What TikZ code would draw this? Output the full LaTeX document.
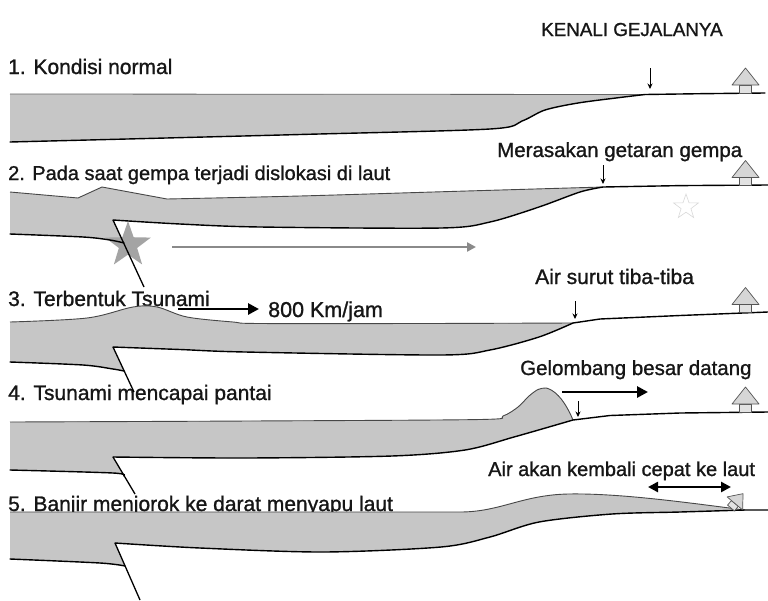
\documentclass[tikz,border=0pt]{standalone}
\usepackage{fontspec}
\setmainfont{Liberation Sans}
\newfontfamily\labelfont{Liberation Sans}[FakeBold=1.1]
\usetikzlibrary{arrows.meta,shapes.geometric}
\definecolor{seagrey}{HTML}{C6C6C6}
\definecolor{ink}{HTML}{161616}
\definecolor{hutline}{HTML}{555555}
\definecolor{hutroof}{HTML}{D6D6D6}
\definecolor{hutbox}{HTML}{E2E2E2}
\definecolor{quakegrey}{HTML}{A4A4A4}
\definecolor{pathgrey}{HTML}{8A8A8A}
\tikzset{
  sea/.style={fill=seagrey},
  bed/.style={draw=black, line width=1.4pt, line join=round, line cap=round},
  surf/.style={draw=black!72, line width=0.9pt, line join=round},
  fault/.style={draw=black, line width=1.3pt},
  tick/.style={draw=black, line width=0.8pt, -{Stealth[length=5.5pt,width=5pt]}},
  bigarrow/.style={draw=black, line width=2.8pt, -{Triangle[length=11pt,width=11pt]}},
  twoway/.style={draw=black, line width=2.8pt, {Triangle[length=10pt,width=10pt]}-{Triangle[length=10pt,width=10pt]}},
  lbl/.style={font=\labelfont\fontsize{21}{25}\selectfont, text=ink, inner sep=0pt, anchor=base west},
  hut/.pic={
    \filldraw[fill=hutbox, draw=hutline, line width=0.7pt] (-6,0) rectangle (6,-8);
    \filldraw[fill=hutroof, draw=hutline, line width=0.7pt, line join=round] (-13.5,-8) -- (13.5,-8) -- (0,-25) -- cycle;
  }
}
\begin{document}
\begin{tikzpicture}[x=1pt,y=-1pt]
\fill[white] (0,0) rectangle (768,600);
\useasboundingbox (0,0) rectangle (768,600);

% ---------- headings and captions ----------
\node[lbl, font=\labelfont\fontsize{18.8}{22}\selectfont] (t-title) at (541,36) {KENALI GEJALANYA};
\node[lbl] (t-p1) at (8,74) {1. Kondisi normal};
\node[lbl, font=\labelfont\fontsize{20.5}{25}\selectfont] (t-feel) at (497,157) {Merasakan getaran gempa};
\node[lbl, font=\labelfont\fontsize{20}{24}\selectfont] (t-p2) at (8,180) {2. Pada saat gempa terjadi dislokasi di laut};
\node[lbl] (t-recede) at (535,284) {Air surut tiba-tiba};
\node[lbl] (t-p3) at (8,306) {3. Terbentuk Tsunami};
\node[lbl, font=\labelfont\fontsize{21.5}{25}\selectfont] (t-speed) at (268,317) {800 Km/jam};
\node[lbl, font=\labelfont\fontsize{20.5}{25}\selectfont] (t-wave) at (520,375) {Gelombang besar datang};
\node[lbl] (t-p4) at (8,400) {4. Tsunami mencapai pantai};
\node[lbl, font=\labelfont\fontsize{20}{24}\selectfont] (t-back) at (488,476) {Air akan kembali cepat ke laut};
\node[lbl] (t-p5) at (8,511) {5. Banjir menjorok ke darat menyapu laut};

% ---------- 1: calm sea ----------
\fill[sea] plot[smooth,tension=.5] coordinates {(10,142) (300,134.5) (490,129) (522,121) (545,110) (578,103) (620,97.5) (645,94.5)} -- (10,94) -- cycle;
\draw[draw=black!60, line width=0.8pt] (10,94) -- (645,94.5);
\draw[bed] plot[smooth,tension=.5] coordinates {(10,142) (300,134.5) (490,129) (522,121) (545,110) (578,103) (620,97.5) (645,94.5)} -- (700,93.7) -- (765,93);
\pic at (745.5,93) {hut};
\coordinate (k1a) at (650,68);
\coordinate (k1b) at (650,89);
\draw[tick] (k1a) -- (k1b);

% ---------- 2: sea floor dislocation ----------
\fill[sea] (10,192) -- (78,198) -- (102,187) -- (167,199)
  -- plot[smooth,tension=.5] coordinates {(167,199) (300,196) (450,191.5) (603,187)}
  -- plot[smooth,tension=.5] coordinates {(603,187) (580,192) (539,207) (490,222) (441,228) (260,227) (180,224) (113,220)}
  -- (124,243)
  -- plot[smooth,tension=.5] coordinates {(124,243) (110,240) (83,237) (10,234)}
  -- cycle;
\node[star, star points=5, star point ratio=2.5, minimum size=48pt, inner sep=0pt, fill=quakegrey] (quake) at (128,245) {};
\node[star, star points=5, star point ratio=2.5, minimum size=26pt, inner sep=0pt, fill=white, draw=black!15, line width=0.6pt] (echo) at (686,207) {};
\draw[surf] (10,192) -- (78,198) -- (102,187) -- (167,199) -- plot[smooth,tension=.5] coordinates {(167,199) (300,196) (450,191.5) (603,187)};
\draw[bed] plot[smooth,tension=.5] coordinates {(113,220) (180,224) (260,227) (441,228) (490,222) (539,207) (580,192) (603,187)} -- (680,185.6) -- (768,185);
\draw[bed] plot[smooth,tension=.5] coordinates {(10,234) (83,237) (110,240) (124,243)};
\coordinate (f2a) at (113,220);
\coordinate (f2b) at (144,287);
\draw[fault] (f2a) -- (f2b);
\pic at (745.5,185.5) {hut};
\coordinate (k2a) at (603,165);
\coordinate (k2b) at (603,184);
\draw[tick] (k2a) -- (k2b);
\coordinate (g2a) at (172,247);
\coordinate (g2b) at (476,247);
\draw[draw=pathgrey, line width=2.6pt, -{Triangle[length=9pt,width=9pt]}] (g2a) -- (g2b);

% ---------- 3: tsunami forms ----------
\fill[sea] plot[smooth,tension=.55] coordinates {(10,322) (87,318) (133,307) (157,307) (187,317) (233,322) (260,323.5) (420,323.5) (573,323)}
  -- plot[smooth,tension=.5] coordinates {(573,323) (539,337) (490,350) (441,355) (245,352) (180,349.5) (113,347)}
  -- (124,371)
  -- plot[smooth,tension=.5] coordinates {(124,371) (113,369) (83,365) (10,362)} -- cycle;
\draw[surf] plot[smooth,tension=.55] coordinates {(10,322) (87,318) (133,307) (157,307) (187,317) (233,322) (260,323.5) (420,323.5) (573,323)};
\draw[bed] plot[smooth,tension=.5] coordinates {(113,347) (180,349.5) (245,352) (441,355) (490,350) (539,337) (573,323)} -- (600,319) -- (680,315.5) -- (768,312);
\draw[bed] plot[smooth,tension=.5] coordinates {(10,362) (83,365) (113,369) (124,371)};
\coordinate (f3a) at (113,347);
\coordinate (f3b) at (134,392);
\draw[fault] (f3a) -- (f3b);
\pic at (745.5,312.5) {hut};
\coordinate (k3a) at (575,301);
\coordinate (k3b) at (575,319);
\draw[tick] (k3a) -- (k3b);
\coordinate (s3a) at (178,309);
\coordinate (s3b) at (259,309);
\draw[bigarrow] (s3a) -- (s3b);

% ---------- 4: wave reaches the coast ----------
\fill[sea] plot[smooth,tension=.5] coordinates {(10,422) (250,421) (480,419.5) (503,416) (518,407) (529,396) (538,389.5) (546,388) (552,390.5)}
  .. controls (561,396) and (568,408) .. (573,420)
  -- plot[smooth,tension=.5] coordinates {(573,420) (514,437) (465,450) (392,456) (245,458) (113,457)}
  -- (124,476)
  -- plot[smooth,tension=.5] coordinates {(124,476) (113,473) (10,470)} -- cycle;
\draw[surf] plot[smooth,tension=.5] coordinates {(10,422) (250,421) (480,419.5) (503,416) (518,407) (529,396) (538,389.5) (546,388) (552,390.5)}
  .. controls (561,396) and (568,408) .. (573,420);
\draw[bed] plot[smooth,tension=.5] coordinates {(113,457) (245,458) (392,456) (465,450) (514,437) (573,420)} -- (610,415.5) -- (680,413) -- (768,412);
\draw[bed] plot[smooth,tension=.5] coordinates {(10,470) (113,473) (124,476)};
\coordinate (f4a) at (113,457);
\coordinate (f4b) at (135,494);
\draw[fault] (f4a) -- (f4b);
\pic at (745.5,412) {hut};
\coordinate (k4a) at (578,401);
\coordinate (k4b) at (578,417);
\draw[tick] (k4a) -- (k4b);
\coordinate (w4a) at (562,392);
\coordinate (w4b) at (648,392);
\draw[bigarrow] (w4a) -- (w4b);

% ---------- 5: flooding inland ----------
\fill[sea] (10,512) -- (460,512) .. controls (500,512) and (522,495) .. (568,494) .. controls (620,493) and (690,503) .. (745,510)
  -- plot[smooth,tension=.5] coordinates {(745,510) (680,512) (612,514) (539,522) (490,537) (441,547) (323,552) (200,548) (115,543)}
  -- (125,566)
  -- plot[smooth,tension=.5] coordinates {(125,566) (100,563) (10,559)} -- cycle;
\draw[surf] (10,512) -- (460,512) .. controls (500,512) and (522,495) .. (568,494) .. controls (620,493) and (690,503) .. (745,510);
\draw[bed] plot[smooth,tension=.5] coordinates {(115,543) (200,548) (323,552) (441,547) (490,537) (539,522) (612,514) (680,512) (745,510)} -- (768,510);
\draw[bed] plot[smooth,tension=.5] coordinates {(10,559) (100,563) (125,566)};
\coordinate (f5a) at (115,543);
\coordinate (f5b) at (140,600);
\draw[fault] (f5a) -- (f5b);
\pic[rotate=-40, scale=0.75] at (731,508) {hut};
\coordinate (b5a) at (648,487);
\coordinate (b5b) at (731,487);
\draw[twoway] (b5a) -- (b5b);
\end{tikzpicture}
\end{document}
